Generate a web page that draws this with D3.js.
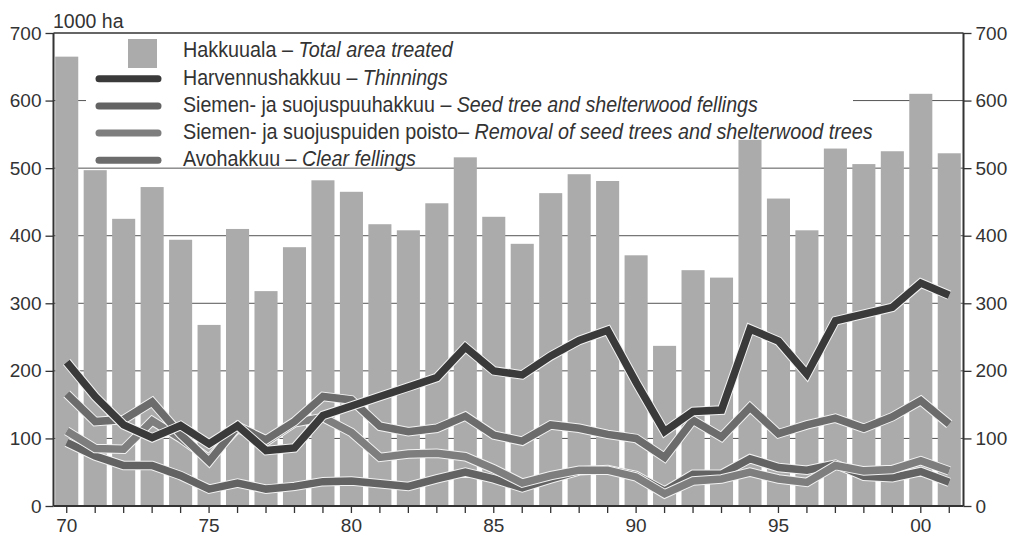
<!DOCTYPE html>
<html>
  <head>
    <meta charset="utf-8">
    <title>Hakkuualat 1970-2001</title>
    <script type="text/javascript" src="https://cdn.jsdelivr.net/npm/d3@7"></script>
    <style>
     body { margin: 0; background: #fff; }
     text { font-family: "Liberation Sans", Arial, sans-serif; fill: #333; }
    </style>
  </head>
  <body>
    <script type="text/javascript">
     // data (1000 ha)
     let years = d3.range(1970, 2002);
     let tickYears = [1970, 1975, 1980, 1985, 1990, 1995, 2000];
     let yTicks = [0, 100, 200, 300, 400, 500, 600, 700];

     let totalArea = [665, 497, 425, 472, 394, 268, 410, 318, 383, 482, 465, 417, 408, 448, 516, 428,
                      388, 463, 491, 481, 371, 237, 349, 338, 542, 455, 408, 529, 506, 525, 610, 522];
     let thinnings = [213, 162, 120, 101, 119, 92, 119, 82, 86, 134, 148, 162, 176, 190, 235, 200,
                      194, 222, 245, 260, 183, 110, 140, 142, 262, 244, 195, 274, 284, 294, 330, 312];
     let seedTree = [94, 74, 60, 60, 45, 25, 34, 25, 29, 36, 37, 33, 29, 40, 50, 40,
                     27, 40, 52, 54, 45, 22, 47, 47, 70, 57, 53, 62, 44, 42, 51, 35];
     let removal = [111, 85, 84, 126, 100, 70, 115, 95, 123, 131, 109, 72, 77, 78, 73, 55,
                    34, 45, 53, 53, 43, 18, 37, 40, 50, 40, 35, 60, 52, 54, 67, 52];
     let clearFell = [166, 125, 128, 154, 106, 66, 118, 98, 125, 162, 157, 118, 110, 115, 133, 105,
                      96, 120, 115, 106, 100, 72, 127, 102, 146, 107, 120, 130, 115, 132, 156, 121];

     let legendFi = ["Hakkuuala – ", "Harvennushakkuu – ", "Siemen- ja suojuspuuhakkuu – ",
                     "Siemen- ja  suojuspuiden poisto– ", "Avohakkuu – "];
     let legendEn = ["Total area treated", "Thinnings", "Seed tree and shelterwood fellings",
                     "Removal of seed trees and shelterwood trees", "Clear fellings"];

     // canvas
     let w = 1009;
     let h = 538;
     let svg = d3.select("body").append("svg")
                 .attr("width", w)
                 .attr("height", h)
                 .style("display", "block");

     let xScale = d3.scaleBand()
                    .domain(years)
                    .range([52.5, 963.5])
                    .paddingInner(0.19)
                    .paddingOuter(0.095);
     let yScale = d3.scaleLinear()
                    .domain([0, 700])
                    .range([506, 33]);
     let left = 53.5, right = 963.5;
     let cx = (yr) => xScale(yr) + xScale.bandwidth() / 2;

     // gridlines
     svg.append("g")
        .selectAll("line")
        .data(yTicks.slice(1, 7))
        .enter()
        .append("line")
        .attr("x1", left)
        .attr("x2", right)
        .attr("y1", (d) => yScale(d))
        .attr("y2", (d) => yScale(d))
        .attr("stroke", "#555")
        .attr("stroke-width", 1);

     // white legend ground hides the gridlines behind it
     svg.append("rect")
        .attr("x", 86).attr("y", 37)
        .attr("width", 767).attr("height", 126)
        .attr("fill", "#fff");

     // bars
     svg.append("g")
        .selectAll("rect")
        .data(totalArea)
        .enter()
        .append("rect")
        .attr("x", (d, i) => xScale(years[i]))
        .attr("y", (d) => yScale(d))
        .attr("width", xScale.bandwidth())
        .attr("height", (d) => yScale(0) - yScale(d))
        .attr("fill", "#ababab");

     // lines (drawn bottom to top)
     let series = [
       {values: seedTree, color: "#636363"},
       {values: removal, color: "#7e7e7e"},
       {values: clearFell, color: "#6c6c6c"},
       {values: thinnings, color: "#3a3a3a"}
     ];
     let line = d3.line()
                  .x((d, i) => cx(years[i]))
                  .y((d) => yScale(d));
     series.forEach((s) => {
       svg.append("path")
          .attr("d", line(s.values))
          .attr("fill", "none")
          .attr("stroke", "#f2f2f2")
          .attr("stroke-width", 9.5)
          .attr("stroke-linejoin", "miter");
       svg.append("path")
          .attr("d", line(s.values))
          .attr("fill", "none")
          .attr("stroke", s.color)
          .attr("stroke-width", 7.5)
          .attr("stroke-linejoin", "miter");
     });

     // frame top line
     svg.append("line")
        .attr("x1", left).attr("x2", right)
        .attr("y1", yScale(700)).attr("y2", yScale(700))
        .attr("stroke", "#333").attr("stroke-width", 1.5);

     // axes
     let yAxisL = d3.axisLeft(yScale).tickValues(yTicks).tickSize(8).tickPadding(4);
     let yAxisR = d3.axisRight(yScale).tickValues(yTicks).tickSize(8).tickPadding(4);
     let xAxis = d3.axisBottom(xScale).tickValues(years).tickSize(7).tickPadding(6)
                   .tickFormat((d) => tickYears.includes(d) ? String(d).slice(2) : "");

     let gx = svg.append("g")
                 .attr("transform", "translate(0, " + yScale(0) + ")")
                 .call(xAxis);
     gx.select(".domain").attr("d", "M" + left + ",0H" + right);
     let gl = svg.append("g")
                 .attr("transform", "translate(" + left + ", 0)")
                 .call(yAxisL);
     let gr = svg.append("g")
                 .attr("transform", "translate(" + right + ", 0)")
                 .call(yAxisR);
     [gx, gl, gr].forEach((g) => {
       g.select(".domain").attr("stroke", "#333").attr("stroke-width", 2);
       g.selectAll(".tick line").attr("stroke", "#333").attr("stroke-width", 1.3);
       g.selectAll(".tick text")
        .style("font-family", "'Liberation Sans', Arial, sans-serif")
        .style("font-size", "19px")
        .attr("fill", "#333");
     });
     gl.select(".domain").attr("d", "M0," + yScale(0) + "V" + yScale(700));
     gr.select(".domain").attr("d", "M0," + yScale(0) + "V" + yScale(700));

     // unit label
     svg.append("text")
        .attr("x", 53).attr("y", 28)
        .style("font-size", "19.5px")
        .text("1000 ha");

     // legend
     let legend = svg.append("g");
     let rowY = (i) => 57.5 + i * 27.2;
     let rowEnd = [453, 448, 758, 873, 416];

     legend.append("rect")
           .attr("x", 128).attr("y", 39)
           .attr("width", 29).attr("height", 29)
           .attr("fill", "#ababab");
     // legend order: thinnings, seed tree, removal, clear fellings
     let legendColors = ["#3a3a3a", "#636363", "#7e7e7e", "#6c6c6c"];
     legendColors.forEach((c, k) => {
       legend.append("line")
             .attr("x1", 99).attr("x2", 158)
             .attr("y1", rowY(k + 1) - 6).attr("y2", rowY(k + 1) - 6)
             .attr("stroke", c)
             .attr("stroke-width", 7)
             .attr("stroke-linecap", "round");
     });

     legendFi.forEach((fi, i) => {
       let t = legend.append("text")
                     .attr("x", 183).attr("y", rowY(i))
                     .style("font-size", "21.5px");
       t.append("tspan").text(fi);
       t.append("tspan").style("font-style", "italic").text(legendEn[i]);
       // squeeze each row to the width it has in the picture
       let len = t.node().getComputedTextLength();
       let k = (rowEnd[i] - 183) / len;
       t.attr("transform", "translate(183, 0) scale(" + k + ", 1) translate(-183, 0)");
     });
    </script>
  </body>
</html>
